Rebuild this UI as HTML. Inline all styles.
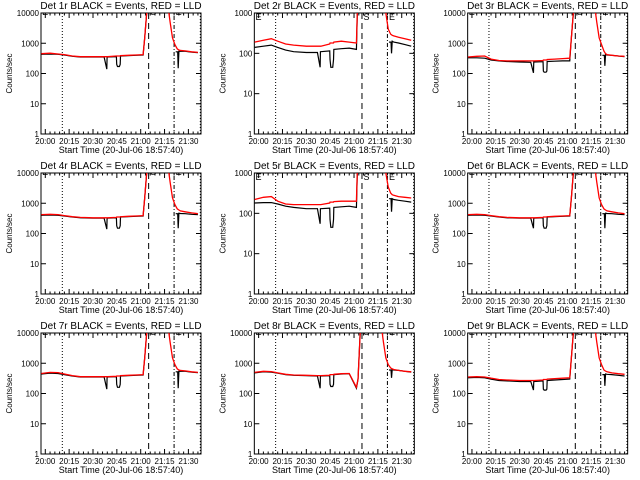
<!DOCTYPE html>
<html><head><meta charset="utf-8">
<style>
html,body{margin:0;padding:0;background:#fff;}
svg{display:block;font-family:"Liberation Sans",sans-serif;}
</style></head>
<body>
<svg id="chart" width="640" height="480" viewBox="0 0 640 480" xmlns="http://www.w3.org/2000/svg"></svg>
<script>
const panelNames = ["1r","2r","3r","4r","5r","6r","7r","8r","9r"];
const panelMax = [10000,1000,10000,10000,1000,10000,10000,10000,10000];
const xTickLabels = ["20:00","20:15","20:30","20:45","21:00","21:15","21:30"];
const xTickMinutes = [0,15,30,45,60,75,90];
const yTickLabels = ["1","10","100","1000","10000"];
const markerTimes = [10.7, 65, 81, 97.5];
const preTimes = [-2.5,3,8,12,17,22,30,37,38.7,38.9,39.1,44.7,44.9,45.4,46.6,47.1,47.3,52,57,61.5,62.5,64,65.5];
const postTimes = [77,78.5,80,81.5,83,84,85,88,92,96];
const blackPostTimes = [82,83.3,83.6,84,85,88,92,96];
const blackPre = [
 [430,440,430,410,370,350,350,350,140,350,350,360,200,170,170,200,380,390,400,410,1500,15000,20000],
 [140,150,160,140,120,110,105,105,45,110,110,115,70,45,45,70,125,130,135,125,5000,5000,5000],
 [330,330,320,280,260,250,240,235,105,240,240,245,120,110,110,120,250,255,260,260,1500,15000,20000],
 [400,410,400,380,350,330,320,320,140,320,320,330,180,150,150,180,350,360,370,380,1500,15000,20000],
 [180,185,185,170,150,140,130,130,55,130,130,135,70,45,45,70,140,145,150,140,5000,5000,5000],
 [400,410,400,380,350,330,320,320,150,320,320,330,180,150,150,180,350,360,370,380,1500,15000,20000],
 [440,470,460,420,380,350,350,350,140,350,350,360,200,160,160,200,380,390,400,410,1500,15000,20000],
 [480,520,510,470,420,400,390,380,150,380,380,390,200,170,170,200,420,440,450,150,300,15000,20000],
 [330,340,330,300,270,260,250,250,130,250,250,260,140,130,130,140,270,280,290,300,1500,15000,20000]
];
const redPre = [
 [450,470,440,420,380,360,360,360,360,360,360,380,380,380,380,380,390,400,410,420,1500,15000,20000],
 [190,210,230,200,170,160,150,150,150,150,150,170,180,180,180,180,190,200,190,180,5000,5000,5000],
 [350,370,380,300,270,260,260,260,260,260,260,270,280,280,280,280,290,300,310,320,1500,15000,20000],
 [420,430,420,390,360,340,330,330,330,330,330,340,350,350,350,350,360,370,380,390,1500,15000,20000],
 [220,250,260,200,170,165,165,165,165,165,165,180,190,190,190,190,195,200,200,200,5000,5000,5000],
 [420,430,420,390,360,340,330,330,330,330,330,340,350,350,350,350,360,370,380,390,1500,15000,20000],
 [460,500,490,440,390,360,360,360,360,360,360,370,380,380,380,380,390,400,410,420,1500,15000,20000],
 [500,540,530,480,430,410,400,390,390,390,390,400,420,420,420,420,430,450,460,160,300,15000,20000],
 [350,360,350,320,290,280,270,270,270,270,270,280,290,290,290,290,300,310,320,330,1500,15000,20000]
];
const redPost = [
 [20000,5000,1500,900,650,600,580,560,520,500],
 [5000,5000,1000,400,300,280,270,250,230,210],
 [20000,5000,1500,900,550,450,420,400,380,370],
 [20000,5000,1500,900,650,600,560,520,480,450],
 [5000,5000,1000,450,320,290,280,260,250,240],
 [20000,5000,1500,900,650,600,560,520,480,450],
 [20000,5000,1500,900,650,600,580,560,520,500],
 [20000,5000,1500,900,700,650,620,580,540,520],
 [20000,5000,1500,900,600,550,520,480,450,430]
];
const blackPost = [
 [520,520,150,540,550,540,510,490],
 [190,190,100,200,190,180,165,150],
 [400,400,180,420,410,400,380,360],
 [450,450,150,470,460,450,430,420],
 [230,230,110,230,220,210,200,190],
 [450,450,150,470,460,450,430,420],
 [520,520,150,540,550,540,510,490],
 [600,600,330,620,600,580,540,510],
 [420,420,180,440,430,420,400,380]
];

const NS = "http://www.w3.org/2000/svg";
const svg = document.getElementById("chart");
function mk(tag, attrs, parent){
  const e = document.createElementNS(NS, tag);
  for (const k in attrs) e.setAttribute(k, attrs[k]);
  (parent||svg).appendChild(e);
  return e;
}
const L=41, R=201, T=13, B=134;
for (let p=0;p<9;p++){
  const ox = (p%3)*213.33, oy = Math.floor(p/3)*160;
  const g = mk("g",{transform:`translate(${ox.toFixed(2)},${oy})`});
  
  
  const ymaxLog = Math.log10(panelMax[p]);
  const xs = t => L + (t+2.7)*1.59;
  const ys = v => B - (Math.log10(v)/ymaxLog)*(B-T);
  const cid = "clip"+p;
  const cp = mk("clipPath",{id:cid},g);
  mk("rect",{x:L,y:T,width:R-L,height:B-T},cp);
  const fr = mk("rect",{x:L,y:T,width:R-L,height:B-T,fill:"none",stroke:"#000","stroke-width":1},g);
  
  
  const tt = mk("text",{x:121,y:9,"font-size":10,"text-anchor":"middle"},g);
  tt.textContent = `Det ${panelNames[p]} BLACK = Events, RED = LLD`;
  
  
  for (let m=-3;m<=99;m+=3){
    const x=xs(m); if(x<L||x>R) continue;
    const major = xTickMinutes.includes(m);
    const len = major?5:2.5;
    mk("line",{x1:x,y1:B,x2:x,y2:B-len,stroke:"#000","stroke-width":1},g);
    mk("line",{x1:x,y1:T,x2:x,y2:T+len,stroke:"#000","stroke-width":1},g);
  }
  xTickLabels.forEach((lab,i)=>{
    const t = mk("text",{x:xs(xTickMinutes[i]),y:B+10,"font-size":8,"text-anchor":"middle"},g);
    t.textContent = lab;
    
    
  });
  const xl = mk("text",{x:121,y:B+19,"font-size":9,"text-anchor":"middle"},g);
  xl.textContent = "Start Time (20-Jul-06 18:57:40)";
  
  
  for (let d=0; d<=ymaxLog; d++){
    const y = ys(Math.pow(10,d));
    mk("line",{x1:L,y1:y,x2:L+5,y2:y,stroke:"#000","stroke-width":1},g);
    mk("line",{x1:R,y1:y,x2:R-5,y2:y,stroke:"#000","stroke-width":1},g);
    const t = mk("text",{x:L-2,y:y+3,"font-size":8,"text-anchor":"end"},g);
    t.textContent = yTickLabels[d];
    
    
  }
  const yl = mk("text",{x:0,y:0,"font-size":8,"text-anchor":"middle",transform:`translate(12,${(T+B)/2}) rotate(-90)`},g);
  yl.textContent = "Counts/sec";
  
  
  const cg = mk("g",{"clip-path":`url(#${cid})`},g);
  const dashes = ["1,2","6,4","1,2,4,2","1,2"];
  markerTimes.forEach((m,i)=>{
    const ln = mk("line",{x1:xs(m),y1:T,x2:xs(m),y2:B,stroke:"#000","stroke-width":1,"stroke-dasharray":dashes[i]},cg);
    
    
  });
  const ly = panelMax[p]===1000 ? T+7 : T+2;
  [["E",xs(-2)],["S",xs(66)],["E",xs(82)]].forEach(([s,x])=>{
    const t = mk("text",{x:x,y:ly,"font-size":9},cg);
    t.textContent = s;
    
    
  });
  function stepPath(ts, vs){
    let d="";
    for(let i=0;i<ts.length;i++){
      const x=xs(ts[i]).toFixed(1), y=ys(vs[i]).toFixed(1);
      d += (i?"L":"M")+x+","+y;
    }
    return d;
  }
  const bp = mk("path",{d:stepPath(preTimes,blackPre[p]),fill:"none",stroke:"#000","stroke-width":1.2},cg);
  
  
  const bq = mk("path",{d:stepPath(blackPostTimes,blackPost[p]),fill:"none",stroke:"#000","stroke-width":1.2},cg);
  
  
  const rp = mk("path",{d:stepPath(preTimes,redPre[p]),fill:"none",stroke:"#f00","stroke-width":1.3},cg);
  
  
  const rq = mk("path",{d:stepPath(postTimes,redPost[p]),fill:"none",stroke:"#f00","stroke-width":1.3},cg);
  
  
}
</script>
</body></html>
